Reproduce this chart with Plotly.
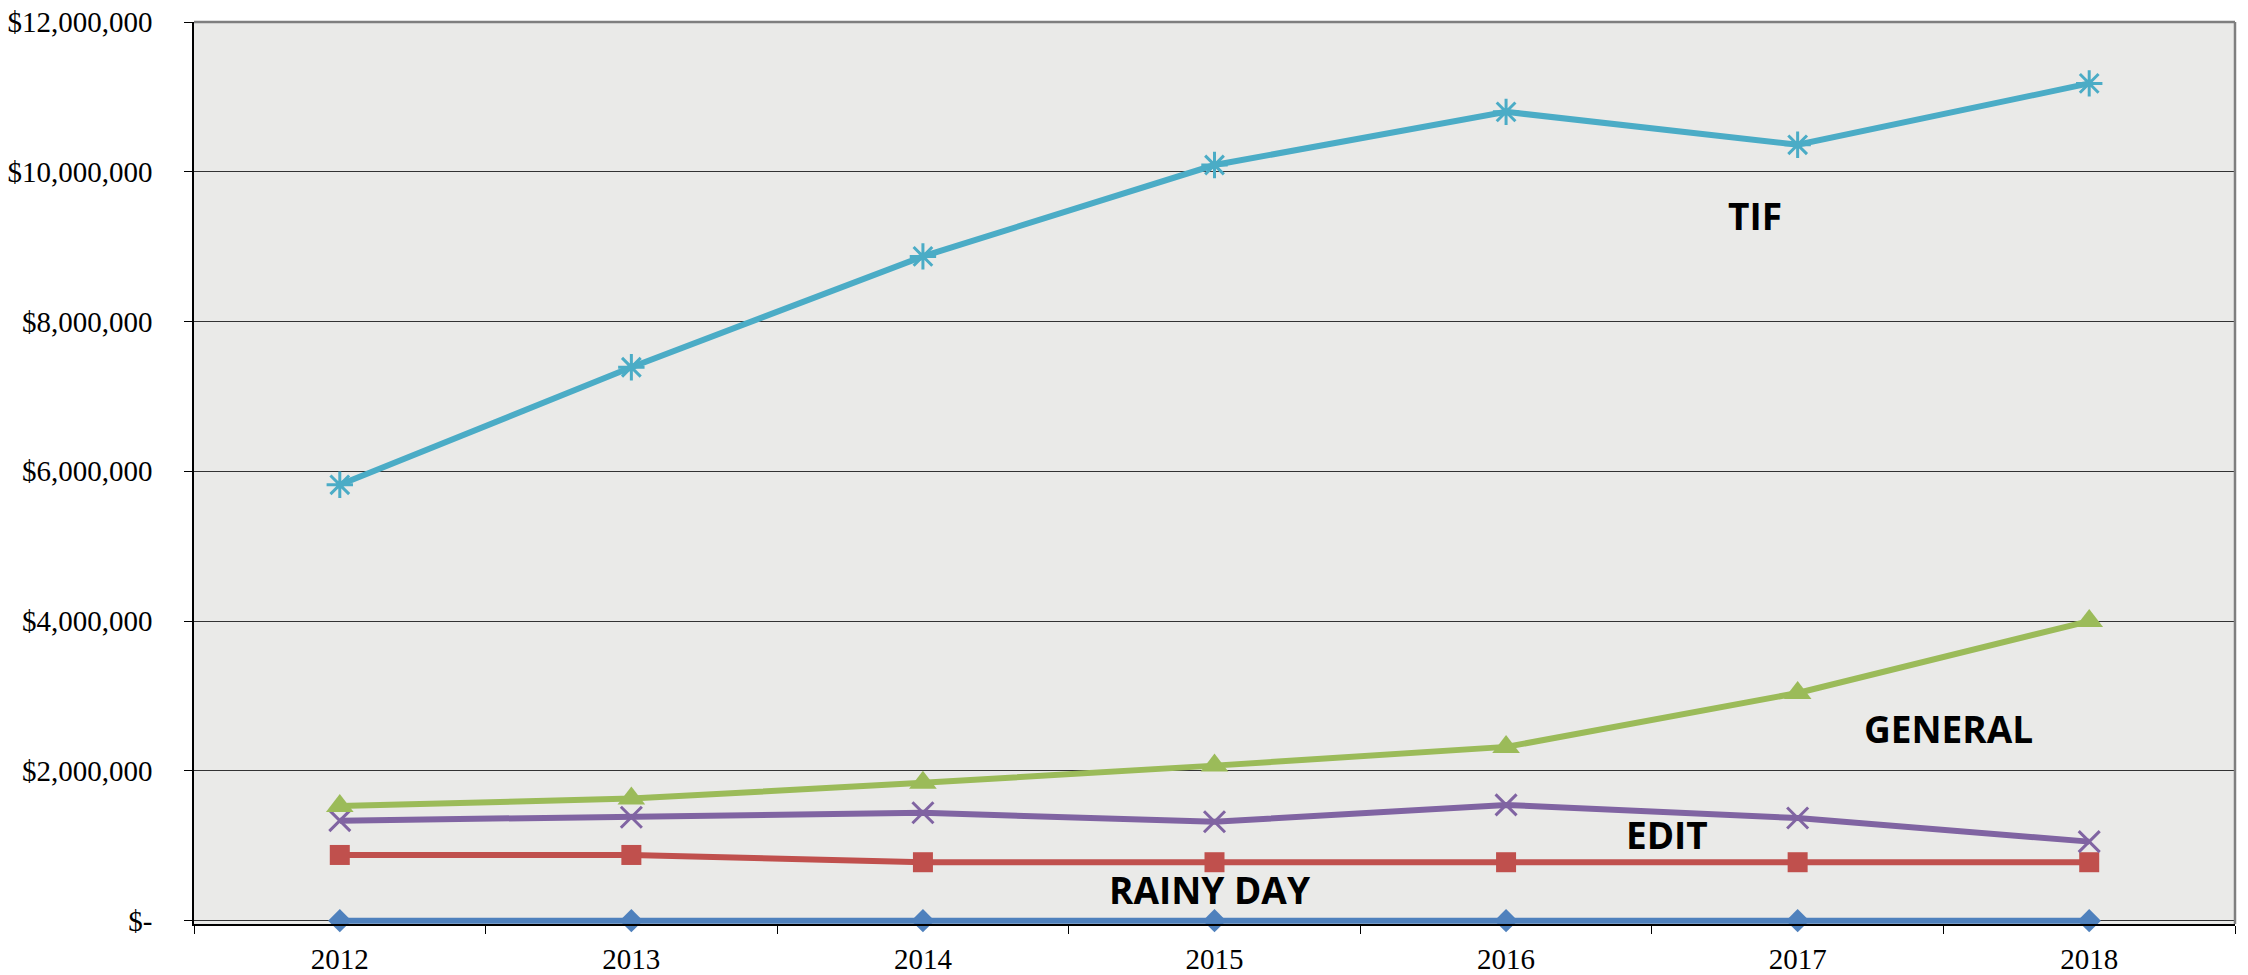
import plotly.graph_objects as go

# Fund balances by year
years = ["2012", "2013", "2014", "2015", "2016", "2017", "2018"]
tif = [5820000, 7390000, 8870000, 10090000, 10800000, 10360000, 11180000]
general = [1530000, 1630000, 1840000, 2070000, 2320000, 3040000, 4000000]
edit = [1335000, 1380000, 1440000, 1320000, 1545000, 1370000, 1055000]
fund_red = [877000, 877000, 780000, 780000, 780000, 780000, 780000]
rainy_day = [0, 0, 0, 0, 0, 0, 0]

y_tick_vals = [0, 2000000, 4000000, 6000000, 8000000, 10000000, 12000000]
y_tick_text = ["$-", "$2,000,000", "$4,000,000", "$6,000,000",
               "$8,000,000", "$10,000,000", "$12,000,000"]

# Series label annotations: (text, x position in category units, y value)
label_text = ["TIF", "GENERAL", "EDIT", "RAINY DAY"]
label_x = [4.854, 5.518, 4.551, 2.986]
label_y = [9420000, 2570000, 1144000, 410000]

fig = go.Figure()

series = [
    ("RAINY DAY", rainy_day, "#4F81BD", "diamond", 18),
    (None, fund_red, "#C0504D", "square", 20),
    ("EDIT", edit, "#8064A2", "x-thin-open", 21),
    ("GENERAL", general, "#9BBB59", "triangle-up", 24),
    ("TIF", tif, "#4BACC6", "asterisk-open", 22),
]

for name, vals, color, symbol, size in series:
    open_sym = symbol.endswith("open")
    fig.add_trace(go.Scatter(
        x=years, y=vals, mode="lines+markers", name=name,
        line=dict(color=color, width=6),
        marker=dict(symbol=symbol, size=size, color=color,
                    line=dict(color=color, width=3 if open_sym else 0)),
        cliponaxis=False, showlegend=False,
    ))

for t, lx, ly in zip(label_text, label_x, label_y):
    fig.add_annotation(
        x=lx, y=ly, xref="x", yref="y", text=t, showarrow=False,
        font=dict(family="Open Sans", size=37, color="#000000", weight="bold"),
        xanchor="center", yanchor="middle",
    )

# Plot-area frame: grey top and right edges
fig.add_shape(type="line", xref="paper", yref="paper", x0=0, x1=1, y0=1, y1=1,
              line=dict(color="#7f7f7f", width=2.5), layer="above")
fig.add_shape(type="line", xref="paper", yref="paper", x0=1, x1=1, y0=0, y1=1,
              line=dict(color="#7f7f7f", width=2.5), layer="above")

tick_font = dict(family="Liberation Serif", size=29, color="#000000")

fig.update_layout(
    width=2248, height=975,
    margin=dict(l=194, r=13, t=22, b=51),
    paper_bgcolor="#ffffff",
    plot_bgcolor="#eaeae8",
    xaxis=dict(
        type="category", range=[-0.5, 6.5], automargin=False,
        tickson="boundaries", ticks="outside", ticklen=8, tickcolor="#000000",
        showline=True, linecolor="#000000", linewidth=1.5,
        showgrid=False, tickfont=tick_font, ticklabelstandoff=8,
        fixedrange=True,
    ),
    yaxis=dict(
        range=[-45000, 12000000], automargin=False,
        tickvals=y_tick_vals, ticktext=y_tick_text,
        ticks="outside", ticklen=8, tickcolor="#000000",
        showline=True, linecolor="#000000", linewidth=1.5,
        showgrid=True, gridcolor="#333333", gridwidth=1,
        zeroline=False, tickfont=tick_font, ticklabelstandoff=26,
        fixedrange=True,
    ),
)

fig.write_html("out.html")
